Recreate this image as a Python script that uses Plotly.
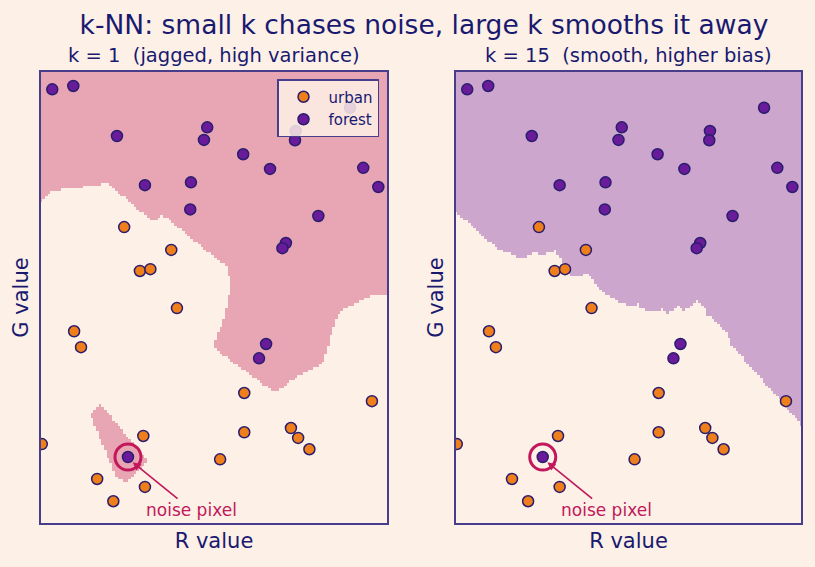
import numpy as np
import plotly.graph_objects as go

# ---- data (R, G values) ----
forest_R = [8.3, 23.8, 56.0, 122.5, 120.1, 149.0, 168.8, 187.7, 187.2, 227.7, 237.5, 248.6,
            76.6, 110.5, 110.0, 204.4, 180.5, 177.9, 165.9, 160.7, 64.1]
forest_G = [245.2, 247.1, 218.8, 223.7, 216.6, 208.5, 200.2, 221.7, 216.4, 234.8, 200.8, 190.0,
            191.0, 192.6, 177.3, 173.6, 158.3, 155.4, 101.2, 93.1, 37.3]
urban_R = [61.3, 96.0, 72.9, 80.6, 100.2, 24.4, 29.5, 149.8, 243.9, 0.6, 75.4, 149.8,
           184.2, 189.5, 197.8, 132.0, 41.4, 76.6, 53.3]
urban_G = [167.3, 154.4, 142.5, 143.5, 121.5, 108.4, 99.4, 73.5, 68.9, 44.6, 49.2, 51.3,
           53.7, 48.1, 41.7, 36.0, 24.9, 20.4, 12.3]
noise_idx = 20  # forest sample sitting among urban pixels
k_values = [1, 15]
panel_titles = ["k = 1 \u00a0(jagged, high variance)", "k = 15 \u00a0(smooth, higher bias)"]
R_range = [0, 255]
G_range = [0, 255]

# ---- styles ----
BG = "#fdf0e6"
TXT = "#191970"
FRAME = "#483d8b"
URBAN_C = "#ef7f1a"
FOREST_C = "#6a1b9a"
EDGE = "#2a1d6e"
REGION_C = ["#e8a6b4", "#cca6cd"]
NOISE_C = "#c2185b"

X = np.column_stack([forest_R + urban_R, forest_G + urban_G])
y = np.array([1] * len(forest_R) + [0] * len(urban_R))

nx, ny = 130, 170
gx = np.linspace(R_range[0], R_range[1], nx)
gy = np.linspace(G_range[0], G_range[1], ny)
GX, GY = np.meshgrid(gx, gy)
P = np.column_stack([GX.ravel(), GY.ravel()])
D = ((P[:, None, :] - X[None, :, :]) ** 2).sum(-1)


def knn(k):
    idx = np.argsort(D, axis=1)[:, :k]
    votes = y[idx].mean(axis=1)
    return (votes > 0.5).astype(float).reshape(ny, nx)


fig = go.Figure()
doms_x = [[41 / 815, 387 / 815], [456 / 815, 801 / 815]]
dom_y = [1 - 523 / 567, 1 - 72 / 567]

for i, k in enumerate(k_values):
    xa = "x" if i == 0 else "x2"
    ya = "y" if i == 0 else "y2"
    Z = knn(k)
    fig.add_trace(go.Heatmap(x=gx, y=gy, z=Z, zmin=0, zmax=1, zsmooth=False,
                             colorscale=[[0, BG], [1, REGION_C[i]]], showscale=False,
                             hoverinfo="skip", xaxis=xa, yaxis=ya))
    fig.add_trace(go.Scatter(x=urban_R, y=urban_G, mode="markers", name="urban",
                             marker=dict(size=11, color=URBAN_C, line=dict(color=EDGE, width=1.5)),
                             showlegend=(i == 0), xaxis=xa, yaxis=ya))
    fig.add_trace(go.Scatter(x=forest_R, y=forest_G, mode="markers", name="forest",
                             marker=dict(size=11, color=FOREST_C, line=dict(color=EDGE, width=1.5)),
                             showlegend=(i == 0), xaxis=xa, yaxis=ya))
    fig.add_trace(go.Scatter(x=[forest_R[noise_idx]], y=[forest_G[noise_idx]], mode="markers",
                             marker=dict(size=26, symbol="circle-open", color=NOISE_C,
                                         line=dict(width=3, color=NOISE_C)),
                             showlegend=False, hoverinfo="skip", xaxis=xa, yaxis=ya))
    fig.add_annotation(x=forest_R[noise_idx] + 3.5, y=forest_G[noise_idx] - 3,
                       ax=forest_R[noise_idx] + 47, ay=forest_G[noise_idx] - 30,
                       xref=xa, yref=ya, axref=xa, ayref=ya,
                       text="noise pixel", showarrow=True, arrowhead=2, arrowsize=1,
                       arrowwidth=1.6, arrowcolor=NOISE_C, standoff=0,
                       font=dict(size=17, color=NOISE_C))
    fig.add_annotation(x=sum(doms_x[i]) / 2, y=1 - 55 / 567, xref="paper", yref="paper",
                       text=panel_titles[i], showarrow=False, xanchor="center",
                       font=dict(size=19.5, color=TXT), yanchor="middle")

axis_common = dict(showticklabels=False, ticks="", showgrid=False, zeroline=False,
                   showline=True, mirror=True, linecolor=FRAME, linewidth=1.5)
ttl = dict(size=21)
fig.update_layout(
    width=815, height=567, paper_bgcolor=BG, plot_bgcolor=BG,
    margin=dict(l=0, r=0, t=0, b=0),
    font=dict(family="DejaVu Sans", color=TXT),
    title=dict(text="k-NN: small k chases noise, large k smooths it away", x=424 / 815, xanchor="center",
               y=1 - 25 / 567, yanchor="middle", font=dict(size=26.5, color=TXT)),
    xaxis=dict(domain=doms_x[0], range=R_range, title=dict(text="R value", font=ttl, standoff=10), **axis_common),
    yaxis=dict(domain=dom_y, range=G_range, title=dict(text="G value", font=ttl, standoff=5), **axis_common),
    xaxis2=dict(domain=doms_x[1], range=R_range, title=dict(text="R value", font=ttl, standoff=10), **axis_common),
    yaxis2=dict(domain=dom_y, range=G_range, anchor="x2", title=dict(text="G value", font=ttl, standoff=5), **axis_common),
    legend=dict(x=379 / 815, y=1 - 79 / 567, xanchor="right", yanchor="top",
                bgcolor="rgba(253,240,230,0.85)", bordercolor=FRAME, borderwidth=1.5,
                font=dict(size=15, color=TXT), tracegroupgap=0, itemwidth=40),
    showlegend=True,
)
fig.write_html("out.html")
